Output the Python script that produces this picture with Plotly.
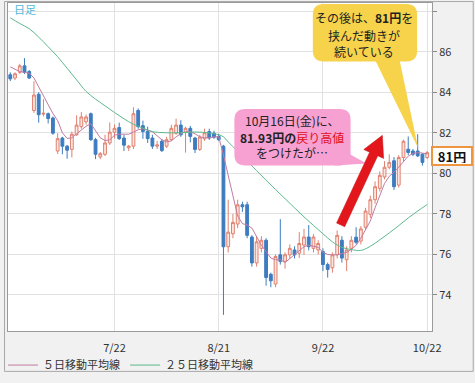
import plotly.graph_objects as go
import pandas as pd

# ---------------- data ----------------
dates = [d.strftime('%Y-%m-%d') for d in pd.bdate_range('2015-06-22', '2015-10-22')]

opens = [84.86, 84.70, 84.98, 85.30, 85.02, 83.10, 83.90, 82.92, 82.94, 82.73,
         81.10, 81.74, 81.34, 81.18, 81.90, 82.30, 82.54, 82.94, 81.66, 80.81,
         80.94, 81.50, 82.03, 82.26, 81.74, 81.26, 81.34, 83.10, 82.35, 82.06,
         81.74, 81.34, 81.58, 81.34, 81.66, 81.98, 82.38, 82.01, 82.22, 81.74,
         81.18, 81.70, 82.06, 81.98, 81.82, 81.34, 76.38, 77.02, 77.50, 78.45,
         78.45, 76.86, 75.58, 76.30, 76.70, 75.02, 74.54, 75.98, 75.66, 75.98,
         76.22, 76.06, 76.46, 76.86, 76.30, 76.22, 76.14, 75.50, 75.34, 75.98,
         76.70, 75.74, 76.30, 76.85, 76.66, 77.34, 77.98, 78.70, 79.26, 79.82,
         80.30, 80.62, 79.42, 80.78, 81.19, 81.10, 81.10, 80.94, 80.78]
highs = [84.98, 84.98, 85.40, 85.68, 85.10, 84.54, 84.00, 83.66, 83.00, 82.80,
         81.98, 81.80, 81.40, 82.06, 82.86, 83.02, 82.90, 83.00, 81.75, 81.05,
         81.90, 82.51, 82.41, 82.50, 81.90, 81.40, 83.26, 83.20, 82.60, 82.30,
         81.90, 81.60, 81.70, 81.80, 82.40, 82.70, 82.62, 82.30, 82.34, 81.80,
         81.90, 82.20, 82.20, 82.10, 81.95, 81.40, 78.70, 78.00, 78.70, 78.60,
         78.60, 76.95, 76.90, 76.90, 76.80, 75.10, 76.00, 77.74, 76.10, 76.50,
         76.40, 77.10, 77.26, 77.45, 77.00, 76.70, 76.30, 75.60, 76.10, 77.18,
         76.90, 76.40, 76.90, 77.34, 77.40, 78.30, 78.90, 79.60, 80.10, 80.60,
         80.94, 80.80, 80.90, 81.66, 81.82, 81.20, 81.93, 81.00, 81.10]
lows = [84.55, 84.60, 84.90, 84.90, 84.65, 82.98, 82.50, 82.80, 82.46, 81.90,
        80.95, 80.94, 80.72, 80.78, 81.85, 82.20, 82.40, 81.60, 80.70, 80.70,
        80.85, 81.40, 81.71, 81.65, 81.10, 81.10, 81.20, 82.20, 81.70, 81.50,
        81.20, 81.20, 81.05, 81.25, 81.60, 81.90, 81.80, 81.02, 81.53, 81.00,
        81.10, 81.60, 81.65, 81.70, 81.60, 73.02, 76.10, 76.80, 77.30, 78.10,
        76.80, 75.40, 75.40, 76.10, 74.46, 74.38, 74.38, 75.50, 75.30, 75.80,
        75.80, 75.82, 75.98, 76.20, 76.10, 76.00, 75.18, 74.86, 75.10, 75.80,
        75.60, 75.18, 76.10, 76.50, 76.50, 77.20, 77.80, 78.50, 79.10, 79.70,
        80.20, 79.18, 79.30, 80.60, 80.90, 80.85, 80.80, 80.38, 80.70]
closes = [84.66, 84.91, 85.30, 84.98, 84.70, 83.86, 82.89, 82.96, 82.70, 81.98,
          81.71, 81.34, 81.14, 81.93, 82.38, 82.78, 82.78, 81.66, 80.94, 80.97,
          81.50, 82.03, 82.22, 81.71, 81.39, 81.34, 82.94, 82.30, 82.06, 81.71,
          81.34, 81.40, 81.12, 81.66, 82.22, 82.38, 81.90, 82.22, 81.82, 81.18,
          81.79, 82.00, 81.74, 81.78, 81.66, 76.38, 77.10, 77.58, 78.45, 78.35,
          76.94, 75.58, 76.62, 76.70, 74.86, 74.70, 75.90, 75.66, 75.98, 76.30,
          75.98, 76.54, 76.86, 76.38, 76.86, 76.54, 75.50, 75.26, 75.98, 76.94,
          75.82, 76.22, 76.70, 76.60, 77.26, 78.14, 78.70, 79.34, 79.90, 80.30,
          80.54, 79.34, 80.78, 81.58, 81.03, 80.94, 80.86, 80.54, 81.02]

# 5-day moving average line (one value per candle)
ma5 = [85.25, 85.12, 85.02, 84.98, 84.94, 84.70, 84.27, 83.77, 83.35, 82.95,
       82.60, 82.00, 81.72, 81.75, 81.95, 82.15, 82.32, 82.45, 82.08, 81.75,
       81.62, 81.65, 81.88, 81.93, 81.93, 81.93, 82.03, 82.15, 82.19, 82.10,
       82.05, 81.85, 81.65, 81.55, 81.60, 81.80, 81.95, 82.05, 82.05, 81.95,
       81.80, 81.75, 81.75, 81.80, 81.80, 80.90, 79.95, 78.95, 77.90, 77.52,
       77.45, 77.30, 76.90, 76.45, 76.15, 75.82, 75.74, 75.74, 75.60, 75.80,
       76.00, 76.20, 76.38, 76.46, 76.42, 76.35, 76.10, 76.00, 75.98, 75.98,
       76.04, 76.10, 76.25, 76.45, 76.80, 77.20, 77.65, 78.30, 78.90, 79.50,
       79.85, 80.05, 80.30, 80.60, 80.85, 80.98, 81.02, 81.00, 80.95]

# 25-day moving average line at these candle positions
ma25_idx = [0, 2, 4, 6, 8, 10, 12, 14, 16, 18, 20, 22, 24, 26, 28, 30, 33, 36, 39,
            42, 44, 45, 46, 48, 50, 52, 54, 56, 58, 60, 62, 64, 66, 68, 70, 72, 74,
            76, 78, 80, 82, 84, 86, 88]
ma25 = [87.67, 87.39, 87.13, 86.72, 86.24, 85.75, 85.18, 84.61, 84.04, 83.66,
        83.33, 83.00, 82.69, 82.42, 82.23, 82.06, 82.00, 82.00, 82.04, 81.99,
        81.90, 81.80, 81.55, 81.08, 80.60, 80.13, 79.66, 79.20, 78.75, 78.30,
        77.85, 77.43, 77.02, 76.62, 76.35, 76.24, 76.20, 76.40, 76.72, 77.06,
        77.42, 77.80, 78.14, 78.46]

tick_dates = ['2015-07-22', '2015-08-21', '2015-09-22', '2015-10-22']
tick_text = ['7/22', '8/21', '9/22', '10/22']
y_ticks = [74, 76, 78, 80, 82, 84, 86, 88]
y_text = ['74', '76', '78', '80', '82', '84', '86', '']

# ---------------- geometry helpers (pixel -> paper) ----------------
W, H = 475, 383
L, R, T, B = 5, 432, 3, 340


def px(x):
    return (x - L) / (R - L)


def py(y):
    return (B - y) / (B - T)


def rrect(x0, y0, x1, y1, r):
    return (f"M{px(x0 + r)},{py(y0)} L{px(x1 - r)},{py(y0)} "
            f"Q{px(x1)},{py(y0)} {px(x1)},{py(y0 + r)} L{px(x1)},{py(y1 - r)} "
            f"Q{px(x1)},{py(y1)} {px(x1 - r)},{py(y1)} L{px(x0 + r)},{py(y1)} "
            f"Q{px(x0)},{py(y1)} {px(x0)},{py(y1 - r)} L{px(x0)},{py(y0 + r)} "
            f"Q{px(x0)},{py(y0)} {px(x0 + r)},{py(y0)} Z")


def poly(pts):
    return "M" + " L".join(f"{px(a)},{py(b)}" for a, b in pts) + " Z"


def arrow(tail, tip, shaft_hw, head_hw, head_len):
    import math
    dx, dy = tip[0] - tail[0], tip[1] - tail[1]
    ln = math.hypot(dx, dy)
    ux, uy = dx / ln, dy / ln
    nx, ny = -uy, ux
    bx, by = tip[0] - ux * head_len, tip[1] - uy * head_len
    pts = [(tail[0] + nx * shaft_hw, tail[1] + ny * shaft_hw),
           (bx + nx * shaft_hw, by + ny * shaft_hw),
           (bx + nx * head_hw, by + ny * head_hw),
           tip,
           (bx - nx * head_hw, by - ny * head_hw),
           (bx - nx * shaft_hw, by - ny * shaft_hw),
           (tail[0] - nx * shaft_hw, tail[1] - ny * shaft_hw)]
    return poly(pts)


FONT = "Noto Sans CJK JP"

fig = go.Figure()
fig.add_trace(go.Candlestick(
    x=dates, open=opens, high=highs, low=lows, close=closes,
    increasing=dict(line=dict(color='#e0806e', width=1), fillcolor='#fde6e1'),
    decreasing=dict(line=dict(color='#3d7cc0', width=1), fillcolor='#3d7cc0'),
    whiskerwidth=0, showlegend=False, hoverinfo='skip'))
fig.add_trace(go.Scatter(
    x=dates, y=ma5, mode='lines', name='５日移動平均線',
    line=dict(color='#c27ba2', width=1), hoverinfo='skip'))
fig.add_trace(go.Scatter(
    x=[dates[i] for i in ma25_idx], y=ma25, mode='lines', name='２５日移動平均線',
    line=dict(color='#5cba8c', width=1, shape='spline'), hoverinfo='skip'))

shapes = []
shapes.append(dict(type='rect', xref='paper', yref='paper',
                   x0=px(1.5), x1=px(473.5), y0=py(1.5), y1=py(381.5),
                   line=dict(color='#a8a8a8', width=1), layer='below'))
shapes.append(dict(type='path', xref='paper', yref='paper',
                   path=rrect(312, 4, 417, 63, 11), fillcolor='#f6d34a',
                   line=dict(width=0)))
shapes.append(dict(type='path', xref='paper', yref='paper',
                   path=poly([(374, 60), (418, 152), (399, 60)]), fillcolor='#f6d34a',
                   line=dict(width=0)))
shapes.append(dict(type='path', xref='paper', yref='paper',
                   path=rrect(233, 112, 350, 170, 11), fillcolor='#f7a0d2',
                   line=dict(width=0)))
shapes.append(dict(type='path', xref='paper', yref='paper',
                   path=poly([(338, 152), (366, 168), (334, 170)]), fillcolor='#f7a0d2',
                   line=dict(width=0)))
shapes.append(dict(type='path', xref='paper', yref='paper',
                   path=arrow((340, 231), (382, 139), 4.5, 11, 21),
                   fillcolor='#e3161c', line=dict(color='#c41015', width=0.5)))


def label(x, y, txt, size=12, color='#222', **kw):
    d = dict(xref='paper', yref='paper', x=px(x), y=py(y), xanchor='center',
             yanchor='middle', text=txt, showarrow=False,
             font=dict(family=FONT, size=size, color=color))
    d.update(kw)
    return d


annotations = [label(22, 9, '日足', size=11, color='#4fb8d8')]
for txt, yy in [('10月16日(金)に、', 124),
                ('<b>81.93円の</b><span style="color:#e0101a">戻り高値</span>', 141),
                ('をつけたが…', 157)]:
    annotations.append(label(291.5, yy, txt))
for txt, yy in [('その後は、<b>81円</b>を', 18), ('挟んだ動きが', 36), ('続いている', 53)]:
    annotations.append(label(364, yy, txt))
annotations.append(label(452.5, 160, '<b>81円</b>', size=13, color='#111',
                         width=36, height=14, bgcolor='white', bordercolor='#f0953f',
                         borderwidth=2, borderpad=1))

fig.update_layout(
    width=W, height=H,
    margin=dict(l=L, r=W - R, t=T, b=H - B),
    paper_bgcolor='#f1f1f1', plot_bgcolor='white',
    font=dict(family=FONT, size=11, color='#333'),
    showlegend=True,
    legend=dict(orientation='h', x=px(0), xanchor='left', y=py(375), yanchor='middle',
                font=dict(family=FONT, size=11, color='#333'), bgcolor='rgba(0,0,0,0)',
                itemwidth=30, tracegroupgap=0),
    boxgap=0.15,
    hovermode=False,
    shapes=shapes, annotations=annotations,
    xaxis=dict(type='category', range=[-0.48, 89.02], tickvals=tick_dates, ticktext=tick_text,
               showgrid=True, gridcolor='#e2e2e2', gridwidth=1, ticks='', ticklabelstandoff=7,
               showline=True, linecolor='#9a9a9a', linewidth=1, mirror=True,
               rangeslider=dict(visible=False), tickfont=dict(size=11, color='#333')),
    yaxis=dict(side='right', range=[72.224, 88.4], tickvals=y_ticks, ticktext=y_text,
               showgrid=True, gridcolor='#e2e2e2', gridwidth=1, ticks='outside', ticklen=4,
               tickcolor='#888', showline=True, linecolor='#9a9a9a', linewidth=1, mirror=True,
               zeroline=False, tickfont=dict(size=11, color='#333')),
)

fig.write_html("out.html")
